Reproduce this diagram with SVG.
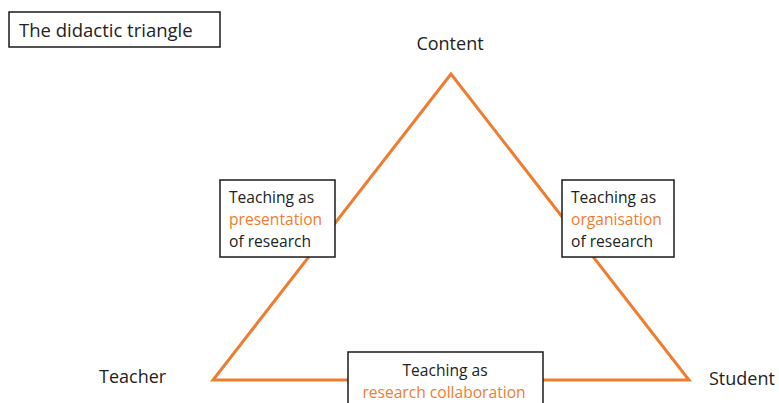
<svg xmlns="http://www.w3.org/2000/svg" width="779" height="403" viewBox="0 0 779 403">
  <style>
    text { font-family: "Open Sans", "Noto Sans", "Liberation Sans", sans-serif; fill: #222222; }
    .lbl { font-size: 15.6px; }
    .pole { font-size: 18px; }
    .box { fill: #ffffff; stroke: #1a1a1a; stroke-width: 1.5; }
    .hl { fill: #ED7D31; }
    .edge { fill: none; stroke: #ED7D31; stroke-width: 3; stroke-linejoin: miter; }
  </style>
  <rect width="779" height="403" fill="#ffffff"/>

  <!-- triangle connecting the three poles -->
  <g id="connectors">
    <polygon class="edge" points="451,74 213,380 689,380"/>
  </g>

  <g id="title">
    <rect class="box" x="9" y="12" width="211" height="35" stroke-width="2"/>
    <text x="19" y="37" font-size="18.5">The didactic triangle</text>
  </g>

  <g id="content">
    <text class="pole" x="450" y="50" text-anchor="middle">Content</text>
  </g>
  <g id="teacher">
    <text class="pole" x="99" y="383">Teacher</text>
  </g>
  <g id="student">
    <text class="pole" x="709" y="385">Student</text>
  </g>

  <g id="presentation">
    <rect class="box" x="220" y="180" width="115" height="77"/>
    <text class="lbl" x="229" y="203">Teaching as</text>
    <text class="lbl hl" x="229" y="225">presentation</text>
    <text class="lbl" x="229" y="247">of research</text>
  </g>

  <g id="organisation">
    <rect class="box" x="562" y="180" width="112" height="77"/>
    <text class="lbl" x="571" y="203">Teaching as</text>
    <text class="lbl hl" x="571" y="225">organisation</text>
    <text class="lbl" x="571" y="247">of research</text>
  </g>

  <g id="collaboration">
    <rect class="box" x="348" y="352" width="195" height="60"/>
    <text class="lbl" x="445" y="376" text-anchor="middle" font-size="16">Teaching as</text>
    <text class="lbl hl" x="444" y="398" text-anchor="middle" font-size="17">research collaboration</text>
  </g>
</svg>
